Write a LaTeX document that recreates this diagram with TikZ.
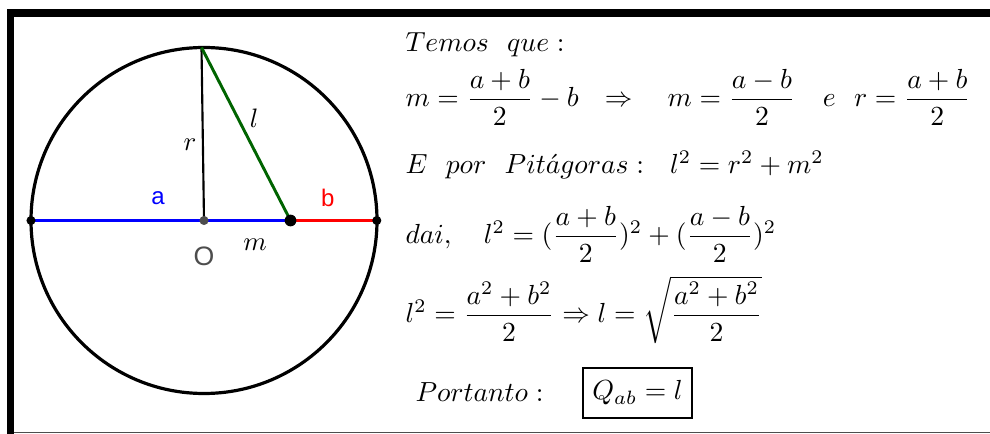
\RequirePackage{fix-cm}
\documentclass[tikz,border=0pt]{standalone}
\definecolor{GeoBlue}{RGB}{0,0,255}
\definecolor{GeoRed}{RGB}{255,0,0}
\definecolor{GeoGreen}{RGB}{0,100,0}
\definecolor{GeoGray}{RGB}{77,77,77}
\usepackage{amsmath, amssymb}
\usepackage{tikz}
\usepackage{xcolor}
\usepackage{fontspec}
\newfontfamily\geofont{Liberation Sans}
\usetikzlibrary{positioning, calc}

\tikzset{
  geolabel/.style={font=\geofont\small, inner sep=0pt},
  mathlabel/.style={inner sep=0pt},
  textline/.style={anchor=base west, inner sep=0pt, font=\fontsize{10.35}{12.4}\selectfont},
  geodot/.style={circle, fill=black, inner sep=0pt, minimum size=3.4pt},
}

\begin{document}
\begin{tikzpicture}[x=0.375pt, y=-0.375pt]
\useasboundingbox (0,0) rectangle (990,434);
% frame
\draw[line width=2.9pt] (10.5,436) -- (10.5,13) -- (995,13);
\draw[GeoGray, line width=0.6pt] (14,432.5) -- (990,432.5);
% circle and points
\coordinate (O) at (204,220.5);
\coordinate (A) at (31,220.5);
\coordinate (P) at (290.5,220.5);
\coordinate (B) at (376.8,220.5);
\coordinate (T) at (201.5,47.5);
\draw[line width=1.2pt] (O) circle[radius=173];
\draw[GeoBlue, line width=1.1pt] (A) -- (P);
\draw[GeoRed, line width=1.1pt] (P) -- (B);
\draw[line width=0.8pt] (T) -- (O);
\draw[GeoGreen, line width=1.1pt] (T) -- (P);
\node[geodot] (dotA) at (A) {};
\node[geodot] (dotB) at (B) {};
\node[geodot, minimum size=4.4pt] (dotP) at (P) {};
\node[geodot, fill=GeoGray] (dotO) at (O) {};
% labels
\node[geolabel, GeoBlue] (lbla) at (158,198) {a};
\node[geolabel, GeoRed] (lblb) at (327.7,198) {b};
\node[geolabel, GeoGray, font=\geofont\normalsize] (lblO) at (204,256) {O};
\node[mathlabel] (lblm) at (255,245) {$m$};
\node[mathlabel] (lblr) at (190,145) {$r$};
\node[mathlabel] (lbll) at (254,118) {$l$};
% text
\node[textline] (temos) at (405,51.5) {$Temos\ \ que:$};
\node[textline] (eqm) at (405,106.7)
  {$m=\dfrac{a+b}{2}-b\ \ \Rightarrow\ \ \ m=\dfrac{a-b}{2}\quad e\ \ r=\dfrac{a+b}{2}$};
\node[textline] (pitagoras) at (405,173.3)
  {$E\ \ por\ \ Pit\acute{a}goras:\ \ l^2=r^2+m^2$};
\node[textline] (dai) at (405,243.7)
  {$dai,\ \ \ l^2=(\dfrac{a+b}{2})^2+(\dfrac{a-b}{2})^2$};
\node[textline] (eql) at (405,322.7)
  {$l^2=\dfrac{a^2+b^2}{2}\Rightarrow l=\sqrt{\dfrac{a^2+b^2}{2}}$};
\node[textline] (portanto) at (415,401.5) {$Portanto:$};
\node[draw, line width=0.6pt, minimum width=40.9pt, minimum height=18.75pt,
  inner sep=0pt, font=\fontsize{10.35}{12.4}\selectfont] (result) at (637.5,393) {$Q_{ab}=l$};
\end{tikzpicture}
\end{document}
